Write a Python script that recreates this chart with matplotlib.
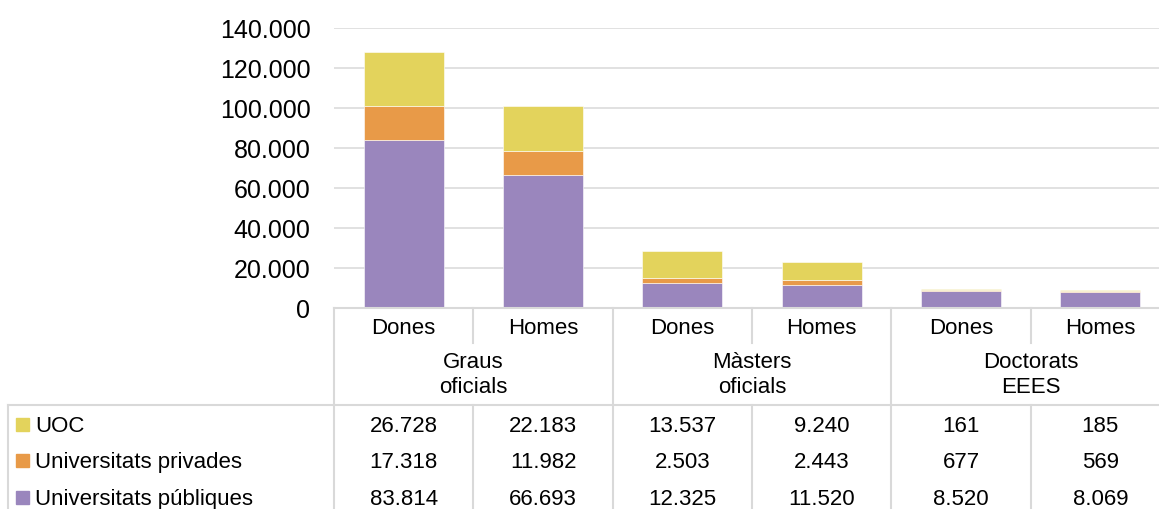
import matplotlib
matplotlib.use("Agg")
import matplotlib.pyplot as plt
from matplotlib.ticker import FuncFormatter
from matplotlib.patches import Rectangle

# Dades (matriculats per tipus d'estudi, sexe i tipus d'universitat)
grups = ['Graus\noficials', 'Màsters\noficials', 'Doctorats\nEEES']
sexes = ['Dones', 'Homes']
series = ['UOC', 'Universitats privades', 'Universitats públiques']
uoc = [26728, 22183, 13537, 9240, 161, 185]
privades = [17318, 11982, 2503, 2443, 677, 569]
publiques = [83814, 66693, 12325, 11520, 8520, 8069]

colors = {'UOC': '#E3D35C', 'Universitats privades': '#E89A48',
          'Universitats públiques': '#9A86BD'}
line_color = '#D9D9D9'

plt.rcParams['font.family'] = ['Liberation Sans', 'DejaVu Sans']

W, H = 1159, 509
fig = plt.figure(figsize=(W / 100, H / 100), dpi=100)

# eix principal (l'últim tram surt del marc, com a l'original)
ax_left, ax_top, ax_bottom, ax_right = 334, 28, 308, 1170
ax = fig.add_axes([ax_left / W, (H - ax_bottom) / H,
                   (ax_right - ax_left) / W, (ax_bottom - ax_top) / H])

x = list(range(len(uoc)))
base2 = publiques
base3 = [a + b for a, b in zip(publiques, privades)]
ax.bar(x, publiques, width=0.575, color=colors['Universitats públiques'],
       edgecolor='white', linewidth=0.4)
ax.bar(x, privades, width=0.575, bottom=base2, color=colors['Universitats privades'],
       edgecolor='white', linewidth=0.4)
ax.bar(x, uoc, width=0.575, bottom=base3, color=colors['UOC'],
       edgecolor='white', linewidth=0.4)

ax.set_xlim(-0.5, 5.5)
ax.set_ylim(0, 140000)
ax.set_yticks(range(0, 140001, 20000))
ax.yaxis.set_major_formatter(FuncFormatter(lambda v, p: f'{int(v):,}'.replace(',', '.')))
ax.set_xticks([])
ax.tick_params(axis='y', length=0, pad=17, labelsize=18, labelcolor='black')
ax.grid(axis='y', color=line_color, linewidth=1.1)
ax.set_axisbelow(True)
for s in ax.spines.values():
    s.set_visible(False)

# taula de dades sota el gràfic
px = lambda yp: (ax_bottom - yp) / (ax_bottom - ax_top)  # píxel y -> fracció d'eix
tr = ax.get_xaxis_transform()
y_top, y_sub, y_mid, y_bot = px(308), px(343), px(405), px(520)

ax.plot([-0.5, 5.6], [y_top, y_top], transform=tr, color=line_color, lw=1.5, clip_on=False)
for b in [-0.5, 1.5, 3.5, 5.5]:
    ax.plot([b, b], [y_top, y_bot], transform=tr, color=line_color, lw=1.5, clip_on=False)
for b in [0.5, 2.5, 4.5]:
    ax.plot([b, b], [y_top, y_sub], transform=tr, color=line_color, lw=1.5, clip_on=False)
    ax.plot([b, b], [y_mid, y_bot], transform=tr, color=line_color, lw=1.5, clip_on=False)

# línia horitzontal i vora esquerra de la zona de valors
fig.add_artist(plt.Line2D([8 / W, 1], [(H - 405) / H] * 2, color=line_color, lw=1.5))
fig.add_artist(plt.Line2D([8 / W, 8 / W], [(H - 405) / H, 0], color=line_color, lw=1.5))

fs = 16
half_cap = 8  # mitja alçada de majúscula en píxels, per alinear per la línia base
for i in x:
    ax.text(i, px(326 + half_cap), sexes[i % 2], transform=tr, ha='center',
            va='baseline', fontsize=fs, clip_on=False)
for g, nom in enumerate(grups):
    ax.text(2 * g + 0.5, px(375), nom, transform=tr, ha='center', va='center',
            fontsize=fs, linespacing=1.2, clip_on=False)

files_y = [424, 460, 497]
valors = [uoc, privades, publiques]
for nom, fila, yp in zip(series, valors, files_y):
    for i, v in enumerate(fila):
        ax.text(i, px(yp + half_cap), f'{v:,}'.replace(',', '.'), transform=tr,
                ha='center', va='baseline', fontsize=fs, clip_on=False)
    fig.add_artist(Rectangle((16 / W, (H - yp - 6.5) / H), 13 / W, 13 / H,
                             color=colors[nom], transform=fig.transFigure))
    fig.text(35 / W, (H - yp - half_cap) / H, nom, ha='left', va='baseline', fontsize=fs)

fig.savefig('out.png', dpi=100)
